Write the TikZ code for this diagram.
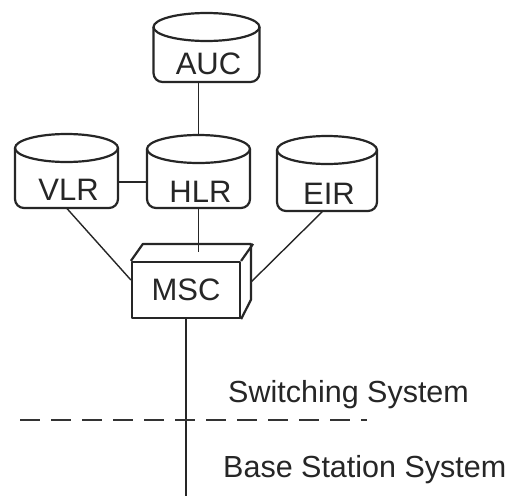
\documentclass[tikz,border=0pt]{standalone}
\usepackage{fontspec}
\setmainfont{Liberation Sans}
% database drum: name, centre x, top y, half width, height, label y, label
\newcommand\drum[7]{%
  \node[drumbody, minimum width={2*#4pt}, minimum height={#5pt}] (#1) at (#2,#3+#5/2) {};
  \draw[ink] (#2,#3+14) ellipse [x radius=#4pt, y radius=14pt];
  \draw[ink, rounded corners=9pt] (#2-#4,#3+14) -- (#2-#4,#3+#5) -- (#2+#4,#3+#5) -- (#2+#4,#3+14);
  \node[lbl] (#1-label) at (#2+2,#6) {#7};
}
\begin{document}
\begin{tikzpicture}[x=1pt,y=-1pt,
  ink/.style={draw=black!85, line width=2.2pt, line join=round},
  wire/.style={draw=black!85, line width=1.4pt},
  lbl/.style={font=\fontsize{31}{33}\selectfont, text=black!85, inner sep=0pt},
  area/.style={font=\fontsize{30.5}{33}\selectfont, text=black!85, inner sep=0pt, anchor=base west},
  drumbody/.style={draw=none, inner sep=0pt, outer sep=0pt},
  cut/.style={draw=black!80, line width=1.3pt, dash pattern=on 20pt off 11pt}]
\fill[white] (0,0) rectangle (523,496);
\useasboundingbox (0,0) rectangle (523,496);

% databases
\drum{auc}{206.5}{13}{53}{69}{64}{AUC}
\drum{vlr}{66.5}{134}{51.5}{74}{189.5}{VLR}
\drum{hlr}{198.5}{135}{51.5}{73}{192}{HLR}
\drum{eir}{327}{136}{50}{75}{194}{EIR}

% switching centre as a box
\node[ink, lbl, minimum width=108pt, minimum height=56pt] (msc) at (186,290) {MSC};
\draw[ink] (msc.north west) -- ++(12,-17) -- ++(108,0) -- ++(0,56) -- (msc.south east);
\draw[ink] (msc.north east) -- ++(12,-17);

\coordinate (msc-top) at ([xshift=4pt,yshift=8.5pt]msc.north);
\coordinate (msc-side) at ([xshift=10pt,yshift=8pt]msc.east);
\coordinate (feed) at (186,496);
\coordinate (cut-l) at (20,420);
\coordinate (cut-r) at (367,420);

% links
\draw[wire] (hlr.north) -- (hlr.north |- auc.south);
\draw[wire] ([yshift=-11pt]vlr.east) -- ([yshift=-11pt]vlr.east -| hlr.west);
\draw[wire] (vlr.south) -- ([yshift=10pt]msc.west);
\draw[wire] (hlr.south) -- (hlr.south |- msc-top);
\draw[wire] ([xshift=-4pt]eir.south) -- (msc-side);
\draw[wire] (msc.south) -- (feed);

% subsystem boundary
\draw[cut] (cut-l) -- (cut-r);
\node[area] (sw) at (228,402) {Switching System};
\node[area] (bss) at (223,477) {Base Station System};
\end{tikzpicture}
\end{document}
